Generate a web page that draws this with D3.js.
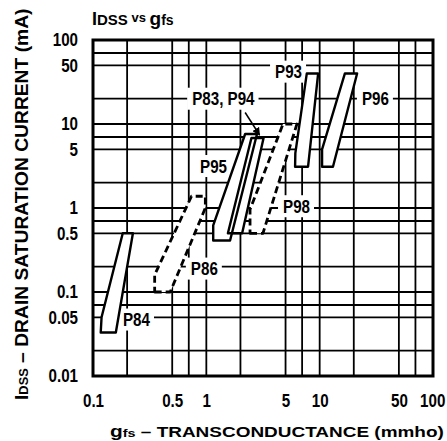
<html>
<head>
<style>
  body { margin: 0; background: white; }
  text { font-weight: bold; fill: black; font-family: "Liberation Sans", Arial, sans-serif; }
</style>
</head>
<body>
<script src="https://d3js.org/d3.v7.min.js"></script>
<script>

var width = 447,
    height = 441,
    narrow = 0.82;   // horizontal squeeze to imitate a condensed face

// tick labels on the two log axes
var xTickValues = [0.1, 0.5, 1, 5, 10, 50, 100];
var xTickLabels = ["0.1", "0.5", "1", "5", "10", "50", "100"];
var yTickValues = [100, 50, 10, 5, 1, 0.5, 0.1, 0.05, 0.01];
var yTickLabels = ["100", "50", "10", "5", "1", "0.5", "0.1", "0.05", "0.01"];
// grid lines in each decade
var gridSteps = [1, 2, 5, 7];

// outlines of the device areas: [gfs (mmho), IDSS (mA)]
var p84 = [[0.117, 0.033], [0.159, 0.033], [0.225, 0.5], [0.183, 0.5], [0.119, 0.05]];
var p86 = [[0.35, 0.1], [0.48, 0.1], [0.98, 1.0], [0.98, 1.38], [0.74, 1.38], [0.35, 0.16]];
var p95 = [[1.15, 0.41], [1.62, 0.41], [2.8, 7.6], [2.2, 7.6], [1.15, 0.62]];
var p83p94 = [[1.55, 0.5], [2.07, 0.5], [3.2, 6.8], [2.5, 6.8]];
var p98 = [[2.43, 0.5], [3.16, 0.5], [6.3, 10], [4.75, 10], [2.43, 0.96]];
var p93 = [[6.07, 3.1], [7.9, 3.1], [9.7, 40], [7.7, 40], [6.1, 4.5]];
var p96 = [[10.5, 3.1], [13.1, 3.1], [21.4, 40], [16.7, 40], [10.5, 5]];

// labels: text, gfs where the text starts, IDSS at its middle
var labelNames = ["P84", "P86", "P95", "P83, P94", "P98", "P93", "P96"];
var labelGfs = [0.184, 0.73, 0.88, 0.75, 4.75, 4.04, 23.6];
var labelIdss = [0.047, 0.19, 3.16, 20, 1.05, 42, 20];

// arrow from the P83, P94 label
var arrowGfs = [2.2, 2.95];
var arrowIdss = [13.7, 7.4];

var devices = [
  { name: "P84", pts: p84, dashed: false },
  { name: "P86", pts: p86, dashed: true },
  { name: "P95", pts: p95, dashed: false },
  { name: "P83, P94", pts: p83p94, dashed: false },
  { name: "P98", pts: p98, dashed: true },
  { name: "P93", pts: p93, dashed: false },
  { name: "P96", pts: p96, dashed: false }
];

var x = d3.scaleLog().domain([0.1, 100]).range([93, 433]);
var y = d3.scaleLog().domain([0.01, 100]).range([376, 40]);

var svg = d3.select("body").append("svg")
  .attr("width", width)
  .attr("height", height);

function gridValues(lo, hi) {
  var v = [];
  for (var d = lo; d < hi * 0.99; d *= 10) {
    gridSteps.forEach(function(s) {
      var val = d * s;
      if (val > lo * 1.01 && val < hi * 0.99) v.push(val);
    });
  }
  return v;
}

// grid
var grid = svg.append("g").attr("stroke", "black").attr("stroke-width", 1.8);
grid.selectAll("line.v").data(gridValues(0.1, 100)).enter().append("line")
  .attr("x1", function(d) { return x(d); })
  .attr("x2", function(d) { return x(d); })
  .attr("y1", y(100))
  .attr("y2", y(0.01));
grid.selectAll("line.h").data(gridValues(0.01, 100)).enter().append("line")
  .attr("y1", function(d) { return y(d); })
  .attr("y2", function(d) { return y(d); })
  .attr("x1", x(0.1))
  .attr("x2", x(100));

var labels = labelNames.map(function(n, i) {
  return { name: n, gfs: labelGfs[i], idss: labelIdss[i] };
});
// white boxes behind labels go under the device areas
var boxes = svg.append("g");

// device areas: fills first, then outlines
var line = d3.line()
  .x(function(d) { return x(d[0]); })
  .y(function(d) { return y(d[1]); })
  .curve(d3.curveLinearClosed);

svg.append("g").selectAll("path").data(devices).enter().append("path")
  .attr("d", function(d) { return line(d.pts); })
  .attr("fill", "white")
  .attr("stroke", "none");

svg.append("g").selectAll("path").data(devices).enter().append("path")
  .attr("d", function(d) { return line(d.pts); })
  .attr("fill", "none")
  .attr("stroke", "black")
  .attr("stroke-width", function(d) { return d.dashed ? 2.8 : 2.4; })
  .attr("stroke-linejoin", "round")
  .attr("stroke-dasharray", function(d) { return d.dashed ? "7,4" : null; });

// frame
svg.append("rect")
  .attr("x", x(0.1))
  .attr("y", y(100))
  .attr("width", x(100) - x(0.1))
  .attr("height", y(0.01) - y(100))
  .attr("fill", "none")
  .attr("stroke", "black")
  .attr("stroke-width", 3);

// labels
var lt = svg.append("g").selectAll("text").data(labels).enter().append("text")
  .attr("font-size", 18.5)
  .attr("transform", function(d) {
    return "translate(" + x(d.gfs) + "," + (y(d.idss) + 6.5) + ") scale(" + narrow + ",1)";
  })
  .text(function(d) { return d.name; });

lt.each(function(d) {
  var w = this.getComputedTextLength() * narrow;
  boxes.append("rect")
    .attr("x", x(d.gfs) - 5)
    .attr("y", y(d.idss) - 11)
    .attr("width", w + 9)
    .attr("height", 22)
    .attr("fill", "white");
});

// arrow
var defs = svg.append("defs");
defs.append("marker")
  .attr("id", "head")
  .attr("viewBox", "0 0 10 10")
  .attr("refX", 9).attr("refY", 5)
  .attr("markerWidth", 8).attr("markerHeight", 8)
  .attr("markerUnits", "userSpaceOnUse")
  .attr("orient", "auto")
  .append("path")
  .attr("d", "M0,0 L10,5 L0,10 z")
  .attr("fill", "black");

svg.append("line")
  .attr("x1", x(arrowGfs[0])).attr("y1", y(arrowIdss[0]))
  .attr("x2", x(arrowGfs[1])).attr("y2", y(arrowIdss[1]))
  .attr("stroke", "black")
  .attr("stroke-width", 1.5)
  .attr("marker-end", "url(#head)");

// axes (labels only)
var yAxis = svg.append("g")
  .attr("transform", "translate(" + x(0.1) + ",0)")
  .call(d3.axisLeft(y).tickValues(yTickValues)
    .tickFormat(function(d, i) { return yTickLabels[i]; })
    .tickSize(0).tickPadding(15 / narrow));
var xAxis = svg.append("g")
  .attr("transform", "translate(0," + y(0.01) + ")")
  .call(d3.axisBottom(x).tickValues(xTickValues)
    .tickFormat(function(d, i) { return xTickLabels[i]; })
    .tickSize(0).tickPadding(18));

[yAxis, xAxis].forEach(function(a) {
  a.select(".domain").remove();
  a.attr("font-family", null).attr("font-size", null);
  a.selectAll("text")
    .attr("font-size", 18.5)
    .attr("fill", "black")
    .attr("transform", "scale(" + narrow + ",1)");
});
// keep the last x label inside the window like the reference
xAxis.selectAll(".tick").filter(function(d) { return d === 100; }).select("text")
  .attr("x", -1);

// title
var title = svg.append("text").attr("x", 92).attr("y", 25);
title.append("tspan").attr("font-size", 18).text("I");
title.append("tspan").attr("font-size", 15).text("DSS");
title.append("tspan").attr("font-size", 13).attr("dy", -3).text(" vs ");
title.append("tspan").attr("font-size", 19).attr("dy", 3).text("g");
title.append("tspan").attr("font-size", 14).text("fs");

// axis titles, stretched to the length they have on the chart
function fitText(sel, target, base) {
  var len = sel.node().getComputedTextLength();
  sel.attr("transform", base + " scale(" + (target / len) + ",1)");
}

var xTitle = svg.append("text").attr("font-size", 14.5);
xTitle.append("tspan").attr("font-size", 16).text("g");
xTitle.append("tspan").attr("font-size", 11).text("fs");
xTitle.append("tspan").text(" \u2013 TRANSCONDUCTANCE (mmho)");
fitText(xTitle, 334, "translate(110,437)");

var yTitle = svg.append("text").attr("font-size", 18);
yTitle.append("tspan").text("I");
yTitle.append("tspan").attr("font-size", 12).text("DSS");
yTitle.append("tspan").text(" \u2013 DRAIN SATURATION CURRENT (mA)");
fitText(yTitle, 392, "translate(28,400) rotate(-90)");

</script>
</body>
</html>
